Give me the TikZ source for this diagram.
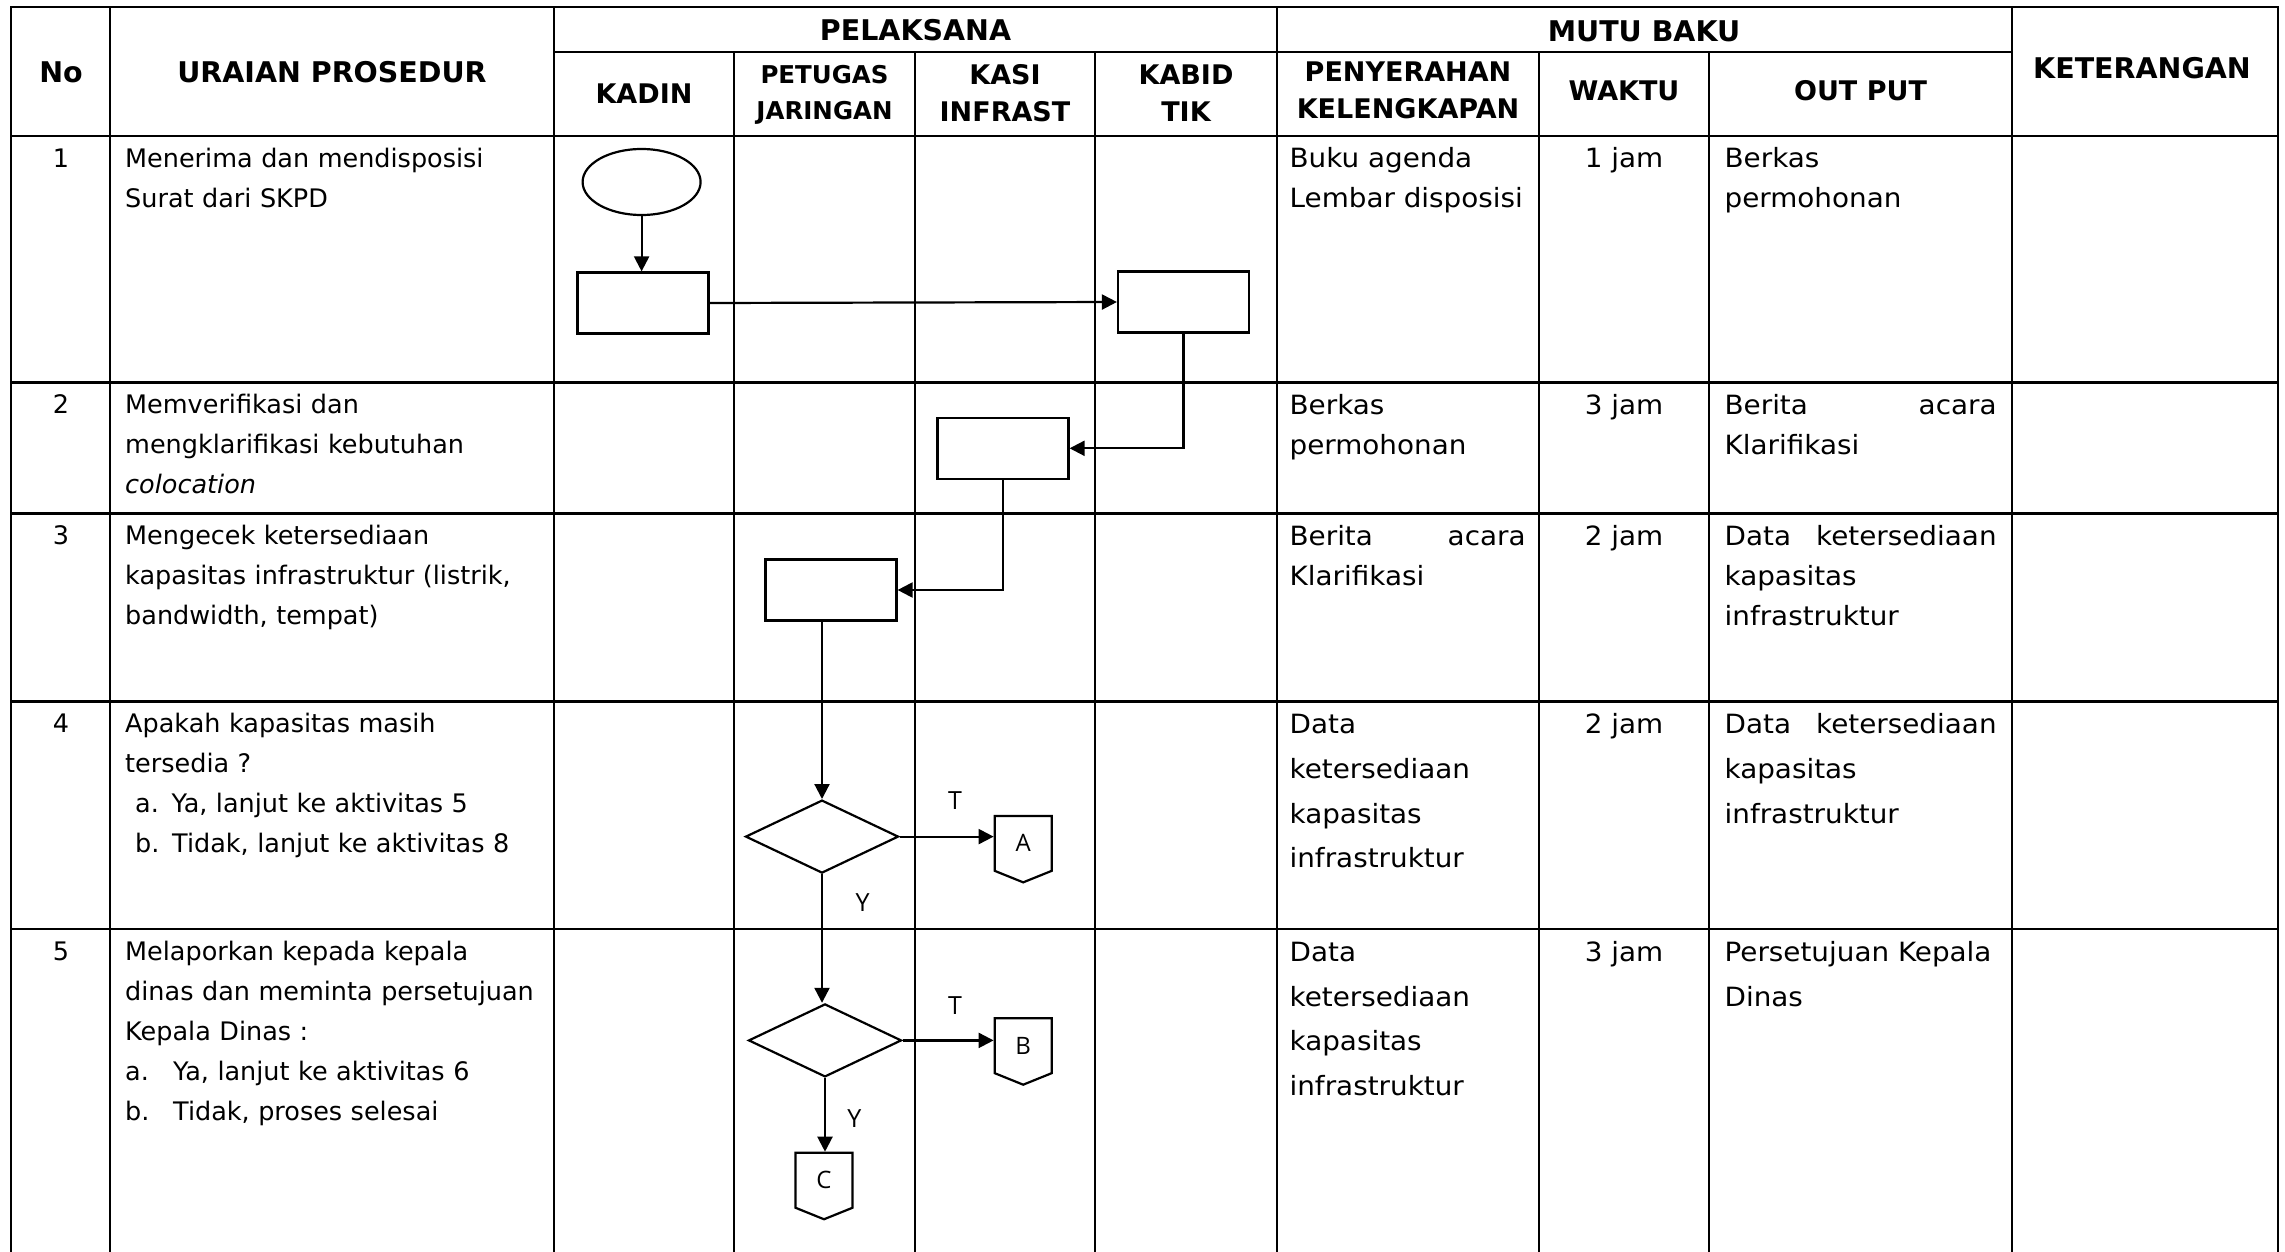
\documentclass[tikz,border=0pt]{standalone}
\usepackage{fontspec}
\setmainfont{DejaVu Sans}
\newfontfamily\colfont[FakeStretch=1.05]{DejaVu Sans}
\newfontfamily\chartfont{Open Sans}
\usetikzlibrary{shapes.geometric,shapes.symbols,arrows.meta}

\tikzset{
  hline/.style={line width=2.6pt, line cap=rect},
  vline/.style={line width=2.2pt, line cap=rect},
  hd/.style={inner sep=0pt, align=center, font=\bfseries\fontsize{28.5}{34}\selectfont},
  subhd/.style={inner sep=0pt, align=center, font=\bfseries\fontsize{27}{37}\selectfont},
  subsm/.style={inner sep=0pt, align=center, font=\bfseries\fontsize{24.5}{36}\selectfont},
  num/.style={anchor=north, inner sep=0pt, execute at begin node=\strut, font=\fontsize{25.5}{40}\selectfont},
  desc/.style={anchor=north west, inner sep=0pt, text width=420pt, align=left,
    execute at begin node=\strut, font=\fontsize{25.5}{40}\selectfont},
  mutu/.style={anchor=north west, inner sep=0pt, align=left,
    execute at begin node=\strut, font=\colfont\fontsize{26.5}{40}\selectfont},
  pencol/.style={mutu, text width=236pt},
  outcol/.style={mutu, text width=272pt},
  waktu/.style={mutu, anchor=north, align=center},
  widerow/.style={font=\colfont\fontsize{26.5}{44.6}\selectfont},
  startnode/.style={ellipse, draw, line width=2.2pt, minimum width=118pt, minimum height=66pt, inner sep=0pt},
  proc/.style={draw, line width=2.2pt, minimum width=131pt, minimum height=61pt, inner sep=0pt},
  decide/.style={diamond, draw, line width=2.2pt, minimum width=153pt, minimum height=73pt, inner sep=0pt},
  offpage/.style={signal, signal to=south, signal from=nowhere, signal pointer angle=136,
    draw, line width=2.2pt, minimum width=57pt, minimum height=58pt, inner sep=0pt,
    font=\chartfont\fontsize{24}{28}\selectfont},
  lbl/.style={inner sep=0pt, font=\chartfont\fontsize{25}{30}\selectfont},
  arr/.style={line width=2.2pt, -{Triangle[length=15pt,width=15pt]}},
}

\begin{document}
\begin{tikzpicture}[x=1pt,y=-1pt]
  \useasboundingbox (0,0) rectangle (2285,1252);

  % table grid
  \foreach \y in {7,136,382.5,513.5,701.5,929} \draw[hline] (11,\y) -- (2278,\y);
  \draw[hline] (554,52) -- (2012,52);
  \foreach \x in {11,110,554,1277,2012,2278} \draw[vline] (\x,7) -- (\x,1252);
  \foreach \x in {734,915,1095,1539,1709} \draw[vline] (\x,52) -- (\x,1252);

  % header
  \node[hd] (hno) at (61,72) {No};
  \node[hd] (huraian) at (332,72) {URAIAN PROSEDUR};
  \node[hd] (hpelaksana) at (915.5,30) {PELAKSANA};
  \node[hd] (hmutu) at (1644,31) {MUTU BAKU};
  \node[hd] (hket) at (2142,68) {KETERANGAN};
  \node[subhd] (hkadin) at (644,93.5) {KADIN};
  \node[subsm] (hpetugas) at (824.5,95) {PETUGAS\\JARINGAN};
  \node[subhd] (hkasi) at (1005,93.5) {KASI\\INFRAST};
  \node[subhd] (hkabid) at (1186,93.5) {KABID\\TIK};
  \node[subhd] (hpenyerahan) at (1408,90) {PENYERAHAN\\KELENGKAPAN};
  \node[subhd] (hwaktu) at (1624,91) {WAKTU};
  \node[subhd] (houtput) at (1860.5,91) {OUT PUT};

  % row 1
  \node[num] (n1) at (61,139) {1};
  \node[desc] (u1) at (125,139) {Menerima dan mendisposisi\\Surat dari SKPD};
  \node[pencol] (p1) at (1289.4,139.3) {Buku agenda\\Lembar disposisi};
  \node[waktu] (w1) at (1624,139.3) {1 jam};
  \node[outcol] (o1) at (1724.4,139.3) {Berkas\\permohonan};

  % row 2
  \node[num] (n2) at (61,385.5) {2};
  \node[desc] (u2) at (125,385.5) {Memverifikasi dan\\mengklarifikasi kebutuhan\\\textit{colocation}};
  \node[pencol] (p2) at (1289.4,385.8) {Berkas\\permohonan};
  \node[waktu] (w2) at (1624,385.8) {3 jam};
  \node[outcol] (o2) at (1724.4,385.8) {Berita\hfill acara\\Klarifikasi};

  % row 3
  \node[num] (n3) at (61,516.5) {3};
  \node[desc] (u3) at (125,516.5) {Mengecek ketersediaan\\kapasitas infrastruktur (listrik,\\bandwidth, tempat)};
  \node[pencol] (p3) at (1289.4,516.8) {Berita\hfill acara\\Klarifikasi};
  \node[waktu] (w3) at (1624,516.8) {2 jam};
  \node[outcol] (o3) at (1724.4,516.8) {Data\hfill ketersediaan\\kapasitas\\infrastruktur};

  % row 4
  \node[num] (n4) at (61,704.5) {4};
  \node[desc] (u4) at (125,704.5) {Apakah kapasitas masih\\tersedia ?\\\hspace*{10pt}a. Ya, lanjut ke aktivitas 5\\\hspace*{10pt}b. Tidak, lanjut ke aktivitas 8};
  \node[pencol, widerow] (p4) at (1289.4,702.5) {Data\\ketersediaan\\kapasitas\\infrastruktur};
  \node[waktu, widerow] (w4) at (1624,702.5) {2 jam};
  \node[outcol, widerow] (o4) at (1724.4,702.5) {Data\hfill ketersediaan\\kapasitas\\infrastruktur};

  % row 5
  \node[num] (n5) at (61,932) {5};
  \node[desc] (u5) at (125,932) {Melaporkan kepada kepala\\dinas dan meminta persetujuan\\Kepala Dinas :\\\makebox[48pt][l]{a.}Ya, lanjut ke aktivitas 6\\\makebox[48pt][l]{b.}Tidak, proses selesai};
  \node[pencol, widerow] (p5) at (1289.4,930) {Data\\ketersediaan\\kapasitas\\infrastruktur};
  \node[waktu, widerow] (w5) at (1624,930) {3 jam};
  \node[outcol, widerow] (o5) at (1724.4,930) {Persetujuan Kepala\\Dinas};

  % flow
  \node[startnode] (mulai) at (641.6,182) {};
  \node[proc] (kadin) at (643,303) {};
  \node[proc] (kabid) at (1183.5,302) {};
  \node[proc] (kasi) at (1003,448.3) {};
  \node[proc] (petugas) at (831,590) {};
  \node[decide] (cek) at (822,836.6) {};
  \node[decide] (setuju) at (825,1040.4) {};
  \node[offpage, anchor=north] (conA) at (1023.2,814.8) {A};
  \node[offpage, anchor=north] (conB) at (1023.2,1017.2) {B};
  \node[offpage, anchor=north] (conC) at (824,1151.7) {C};

  \draw[arr] (mulai.south) -- (mulai.south |- kadin.north);
  \draw[arr] (kadin.east) -- (kabid.west);
  \draw[arr] (kabid.south) |- (kasi.east);
  \draw[arr] (kasi.south) |- (petugas.east);
  \draw[arr] (cek.north |- petugas.south) -- (cek.north);
  \draw[arr] (cek.east) -- (cek.east -| conA.west);
  \draw[arr] (cek.south) -- (cek.south |- setuju.north);
  \draw[arr] (setuju.east) -- (setuju.east -| conB.west);
  \draw[arr] (setuju.south) -- (setuju.south |- conC.north);

  \node[lbl] (tA) at (955,801) {T};
  \node[lbl] (yA) at (862.7,902.4) {Y};
  \node[lbl] (tB) at (955,1005.6) {T};
  \node[lbl] (yB) at (854.3,1118.9) {Y};
\end{tikzpicture}
\end{document}
